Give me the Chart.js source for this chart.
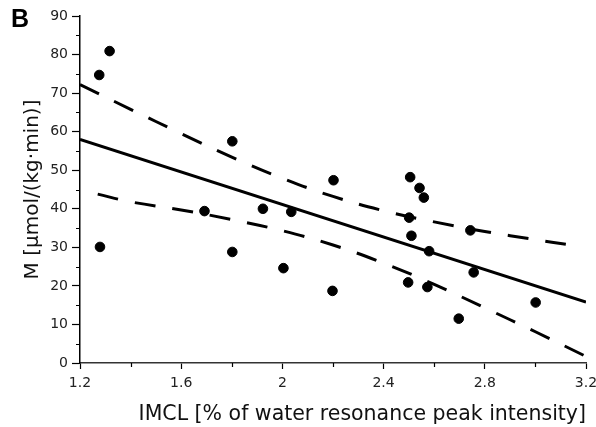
<!DOCTYPE html>
<html>
<head>
<meta charset="utf-8">
<script src="https://cdn.jsdelivr.net/npm/chart.js@4.4.1/dist/chart.umd.min.js"></script>
<style>
  html, body { margin: 0; padding: 0; background: #fff; }
  #wrap { position: relative; width: 596px; height: 427px; }
  #panel {
    position: absolute; left: 11px; top: 4px;
    font: bold 25px "Liberation Sans", Arial, sans-serif; color: #000;
  }
</style>
</head>
<body>
<div id="wrap">
  <canvas id="chart" width="596" height="427"></canvas>
  <div id="panel">B</div>
</div>
<script>
// =========================================================================
// Data
// =========================================================================
const imcl = [1.276, 1.317, 1.279, 1.692, 1.802, 1.802, 1.923, 2.004, 2.035, 2.198, 2.202,
  2.497, 2.501, 2.505, 2.510, 2.542, 2.559, 2.573, 2.580, 2.697, 2.743, 2.756, 3.001];
const insulinM = [74.7, 80.9, 30.1, 39.4, 57.5, 28.8, 40.0, 24.6, 39.2, 18.7, 47.4,
  20.9, 37.7, 48.2, 33.0, 45.4, 42.9, 19.7, 29.0, 11.5, 34.4, 23.5, 15.7];

// regression line end points
const fitX = [1.2, 3.2];
const fitY = [58.0, 15.8];

// confidence band, dashed curves
const upperX = [1.2, 1.4, 1.6, 1.8, 2.0, 2.2, 2.4, 2.6, 2.8, 3.0, 3.13];
const upperY = [72.2, 65.8, 59.5, 53.4, 47.9, 43.2, 39.5, 36.6, 34.1, 32.0, 30.7];
const lowerX = [1.27, 1.4, 1.6, 1.8, 2.0, 2.2, 2.4, 2.6, 2.8, 3.0, 3.2];
const lowerY = [43.8, 41.8, 39.7, 37.2, 34.3, 30.6, 25.9, 20.4, 14.3, 8.1, 1.7];

// axes
const xTicks = [1.2, 1.6, 2.0, 2.4, 2.8, 3.2];
const xTickLabels = ["1.2", "1.6", "2", "2.4", "2.8", "3.2"];
const xMinorTicks = [1.4, 1.8, 2.2, 2.6, 3.0];
const yTicks = [0, 10, 20, 30, 40, 50, 60, 70, 80, 90];
const yMinorTicks = [5, 15, 25, 35, 45, 55, 65, 75, 85];

const xTitle = "IMCL [% of water resonance peak intensity]";
const yTitle = "M [\u00b5mol/(kg\u00b7min)]";

// =========================================================================
// Helpers
// =========================================================================
const zip = (xs, ys) => xs.map((x, i) => ({ x, y: ys[i] }));
const FONT = "'DejaVu Sans', Verdana, sans-serif";

// short minor ticks drawn through the scales
const minorTicks = {
  id: "minorTicks",
  afterDraw(chart) {
    const { ctx, scales } = chart;
    const xs = scales.x, ys = scales.y;
    ctx.save();
    ctx.strokeStyle = "#000";
    ctx.lineWidth = 1.2;
    ctx.beginPath();
    for (const v of yMinorTicks) {
      const py = Math.round(ys.getPixelForValue(v)) + 0.5;
      ctx.moveTo(xs.left - 4, py);
      ctx.lineTo(xs.left, py);
    }
    for (const v of xMinorTicks) {
      const px = Math.round(xs.getPixelForValue(v)) + 0.5;
      ctx.moveTo(px, ys.bottom);
      ctx.lineTo(px, ys.bottom + 4);
    }
    ctx.stroke();
    ctx.restore();
  },
};

// =========================================================================
// Chart
// =========================================================================
const dashed = {
  type: "line",
  borderColor: "#000",
  borderWidth: 3,
  borderDash: [21, 17],
  pointRadius: 0,
  tension: 0.4,
  fill: false,
};

new Chart(document.getElementById("chart"), {
  type: "scatter",
  data: {
    datasets: [
      {
        label: "subjects",
        data: zip(imcl, insulinM),
        backgroundColor: "#000",
        borderColor: "#000",
        pointRadius: 4.8,
        pointHoverRadius: 4.8,
      },
      {
        type: "line",
        label: "fit",
        data: zip(fitX, fitY),
        borderColor: "#000",
        borderWidth: 3,
        pointRadius: 0,
        fill: false,
      },
      { ...dashed, label: "upper", data: zip(upperX, upperY) },
      { ...dashed, label: "lower", data: zip(lowerX, lowerY) },
    ],
  },
  options: {
    responsive: false,
    animation: false,
    devicePixelRatio: 1,
    layout: { padding: { top: 16, right: 0, left: 0, bottom: 0 } },
    plugins: {
      legend: { display: false },
      tooltip: { enabled: false },
    },
    scales: {
      x: {
        type: "linear",
        min: 1.2,
        max: 3.2,
        afterBuildTicks: (s) => { s.ticks = xTicks.map((v) => ({ value: v })); },
        afterFit: (s) => {
          s.height = 64;
          s.paddingRight = 10;
          s.paddingLeft = 0;
        },
        ticks: {
          callback: (v) => xTickLabels[xTicks.findIndex((t) => Math.abs(t - v) < 1e-6)],
          color: "#222",
          font: { family: FONT, size: 14 },
          padding: 6,
          maxRotation: 0,
        },
        grid: { drawOnChartArea: false, drawTicks: true, tickLength: 6, color: "#000", tickWidth: 1.2 },
        border: { display: true, color: "#333", width: 1.5 },
        title: {
          display: true,
          text: xTitle,
          align: "end",
          color: "#111",
          font: { family: FONT, size: 20.5 },
          padding: { top: 2, bottom: 0 },
        },
      },
      y: {
        type: "linear",
        min: 0,
        max: 90,
        afterBuildTicks: (s) => { s.ticks = yTicks.map((v) => ({ value: v })); },
        afterFit: (s) => { s.width = 80; },
        ticks: {
          color: "#222",
          font: { family: FONT, size: 14 },
          padding: 4,
        },
        grid: { drawOnChartArea: false, drawTicks: true, tickLength: 8, color: "#000", tickWidth: 1.2 },
        border: { display: true, color: "#000", width: 1.5 },
        title: {
          display: true,
          text: yTitle,
          color: "#111",
          font: { family: FONT, size: 20 },
          padding: { top: 21, bottom: 0 },
        },
      },
    },
  },
  plugins: [minorTicks],
});
</script>
</body>
</html>
